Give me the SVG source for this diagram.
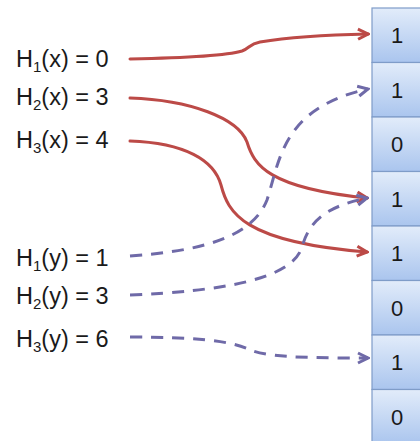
<svg xmlns="http://www.w3.org/2000/svg" width="420" height="441" viewBox="0 0 420 441">
<style>
.lbl{font-family:"Liberation Sans",Arial,sans-serif;font-size:23.5px;fill:#1a1a1a}
.sub{font-size:15px}
.val{font-family:"Liberation Sans",Arial,sans-serif;font-size:22px;fill:#1a1a1a;text-anchor:middle}
.cell{fill:url(#cg);stroke:#7f9cc8;stroke-width:1.2}
.red{fill:none;stroke:#bc4a47;stroke-width:3;stroke-linecap:round}
.pur{fill:none;stroke:#6f6aa8;stroke-width:3;stroke-dasharray:12 9}
</style>
<defs>
<linearGradient id="cg" x1="0" y1="0" x2="0" y2="1">
<stop offset="0" stop-color="#e2ecfa"/>
<stop offset="1" stop-color="#aac5ee"/>
</linearGradient>
<marker id="ar" markerUnits="userSpaceOnUse" markerWidth="14" markerHeight="14" viewBox="0 0 14 14" refX="12" refY="7" orient="auto">
<path d="M2,2 L12,7 L2,12" fill="none" stroke="#bc4a47" stroke-width="3"/>
</marker>
<marker id="ap" markerUnits="userSpaceOnUse" markerWidth="14" markerHeight="14" viewBox="0 0 14 14" refX="12" refY="7" orient="auto">
<path d="M2,2 L12,7 L2,12" fill="none" stroke="#6f6aa8" stroke-width="3"/>
</marker>
</defs>
<rect width="420" height="441" fill="#ffffff"/>
<g id="array">
<g id="c0"><rect class="cell" x="372" y="8" width="60" height="54.5"/><text class="val" x="397" y="43">1</text></g>
<g id="c1"><rect class="cell" x="372" y="62.5" width="60" height="54.5"/><text class="val" x="397" y="97.5">1</text></g>
<g id="c2"><rect class="cell" x="372" y="117" width="60" height="54.5"/><text class="val" x="397" y="152">0</text></g>
<g id="c3"><rect class="cell" x="372" y="171.5" width="60" height="54.5"/><text class="val" x="397" y="206.5">1</text></g>
<g id="c4"><rect class="cell" x="372" y="226" width="60" height="54.5"/><text class="val" x="397" y="261">1</text></g>
<g id="c5"><rect class="cell" x="372" y="280.5" width="60" height="54.5"/><text class="val" x="397" y="315.5">0</text></g>
<g id="c6"><rect class="cell" x="372" y="335" width="60" height="54.5"/><text class="val" x="397" y="370">1</text></g>
<g id="c7"><rect class="cell" x="372" y="389.5" width="60" height="54.5"/><text class="val" x="397" y="424.5">0</text></g>
</g>
<g id="labels">
<g id="h1x"><text class="lbl" x="16" y="67">H<tspan class="sub" dy="5">1</tspan><tspan dy="-5">(x) = 0</tspan></text></g>
<g id="h2x"><text class="lbl" x="16" y="105">H<tspan class="sub" dy="5">2</tspan><tspan dy="-5">(x) = 3</tspan></text></g>
<g id="h3x"><text class="lbl" x="16" y="148">H<tspan class="sub" dy="5">3</tspan><tspan dy="-5">(x) = 4</tspan></text></g>
<g id="h1y"><text class="lbl" x="16" y="266">H<tspan class="sub" dy="5">1</tspan><tspan dy="-5">(y) = 1</tspan></text></g>
<g id="h2y"><text class="lbl" x="16" y="304">H<tspan class="sub" dy="5">2</tspan><tspan dy="-5">(y) = 3</tspan></text></g>
<g id="h3y"><text class="lbl" x="16" y="347">H<tspan class="sub" dy="5">3</tspan><tspan dy="-5">(y) = 6</tspan></text></g>
</g>
<g id="connectors">
<path class="red" marker-end="url(#ar)" d="M130,59 C180,58 225,56 242,51 C250,48 249,44 260,42 C290,37 320,35 368,34"/>
<path class="red" marker-end="url(#ar)" d="M130,98 C190,100 238,118 247,142 C254,165 268,188 367,198"/>
<path class="red" marker-end="url(#ar)" d="M130,141 C185,143 214,160 221,185 C228,212 242,242 367,252"/>
<path class="pur" marker-end="url(#ap)" d="M130,256 C200,251 252,238 267,200 C280,160 282,108 368,89"/>
<path class="pur" marker-end="url(#ap)" d="M130,295 C220,291 292,280 302,247 C310,218 330,206 367,198"/>
<path class="pur" marker-end="url(#ap)" d="M130,337 C190,337 228,340 248,349 C265,357 300,358 368,358"/>
</g>
</svg>
